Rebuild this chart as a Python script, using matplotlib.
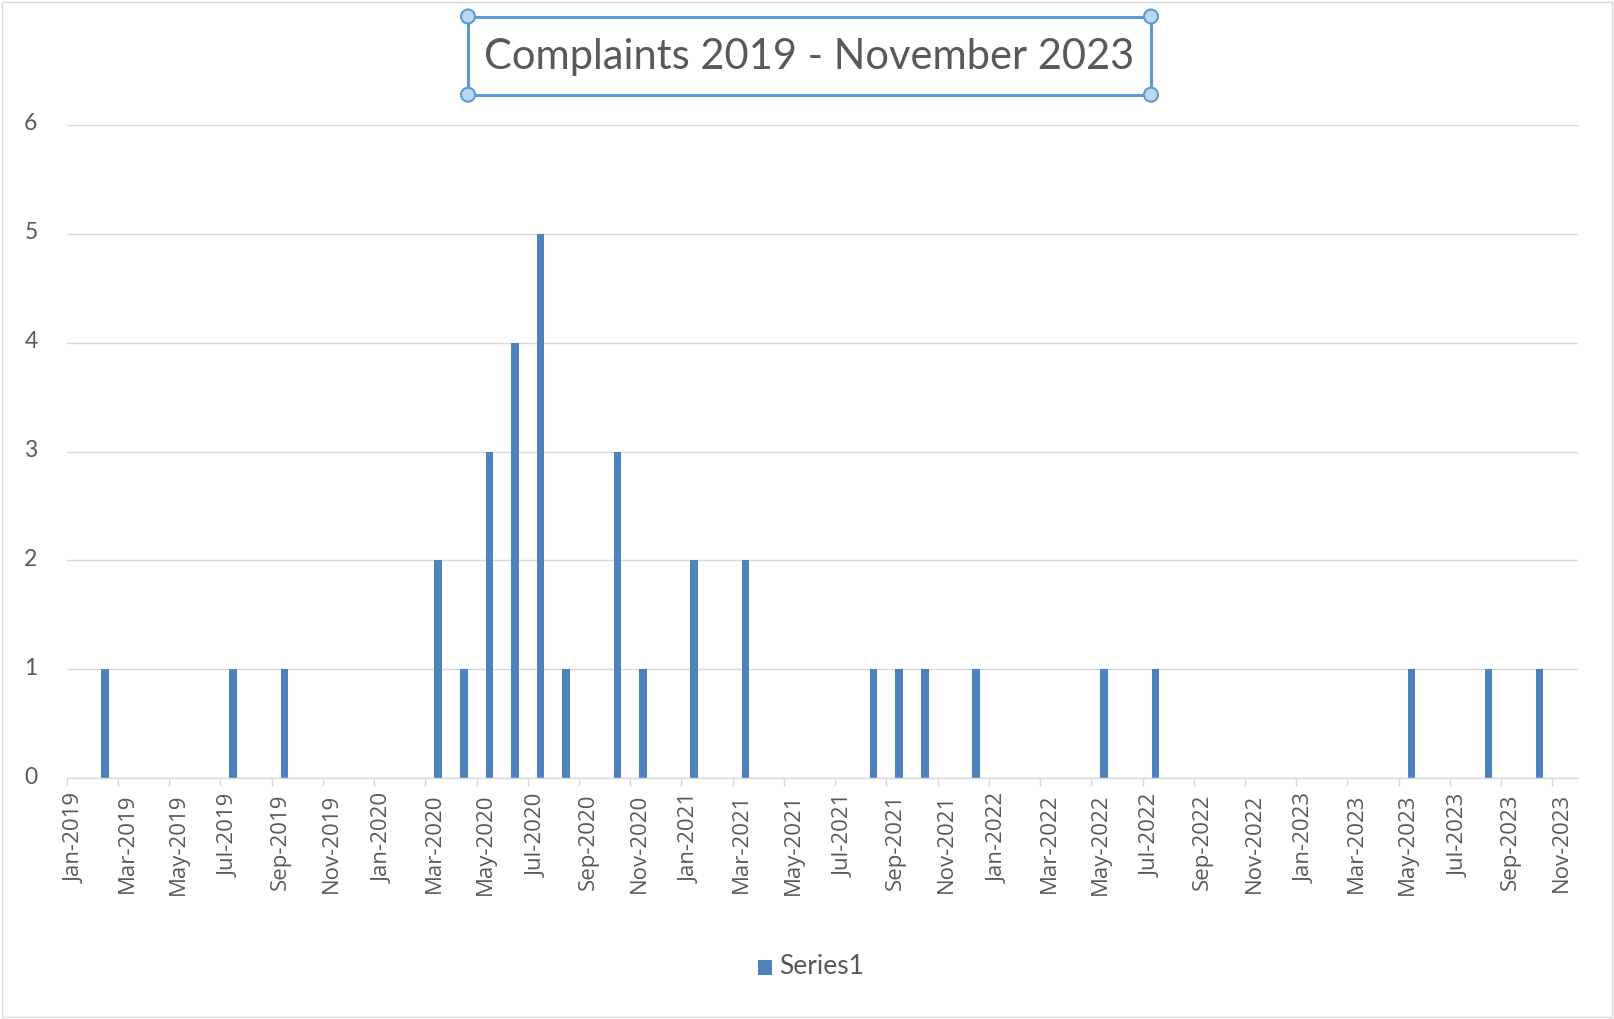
import matplotlib
matplotlib.use('Agg')
import matplotlib.pyplot as plt
import matplotlib.transforms as mtransforms
from matplotlib.patches import Rectangle, Circle
import numpy as np
import pandas as pd

# ---- data ----
months = ['2019-02', '2019-07', '2019-09', '2020-03', '2020-04', '2020-05',
          '2020-06', '2020-07', '2020-08', '2020-10', '2020-11', '2021-01',
          '2021-03', '2021-08', '2021-09', '2021-10', '2021-12', '2022-05',
          '2022-07', '2023-05', '2023-08', '2023-10']
complaints = [1, 1, 1, 2, 1, 3, 4, 5, 1, 3, 1, 2, 2, 1, 1, 1, 1, 1, 1, 1, 1, 1]
axis_start = '2019-01'
axis_end = '2023-11'
y_ticks = [0, 1, 2, 3, 4, 5, 6]
series_name = 'Series1'
title_text = 'Complaints 2019 - November 2023'

# ---- styling ----
FONT = 'Lato'
TEXT_C = '#595959'
GRID_C = '#D9D9D9'
BAR_C = '#4F81BD'

W, H, DPI = 1614, 1019, 100
fig = plt.figure(figsize=(W / DPI, H / DPI), dpi=DPI)
fig.patch.set_facecolor('white')

periods = pd.period_range(axis_start, axis_end, freq='M')
series = pd.Series(complaints, index=pd.PeriodIndex(months, freq='M'))
series = series.reindex(periods, fill_value=0)
idx = np.arange(len(periods))

left_px, right_px, top_px, bottom_px = 66.7, 1578.0, 125.0, 778.0
ax = fig.add_axes([left_px / W, 1 - bottom_px / H,
                   (right_px - left_px) / W, (bottom_px - top_px) / H])

ax.bar(idx + 0.5, series.values, width=0.3, color=BAR_C, zorder=3)

ax.set_xlim(0, len(periods))
ax.set_ylim(y_ticks[0], y_ticks[-1])
ax.set_yticks(y_ticks)
ax.set_yticklabels([str(v) for v in y_ticks], fontsize=16.5, color=TEXT_C,
                   family=FONT)
ax.yaxis.grid(True, color=GRID_C, linewidth=1.0, zorder=0)
ax.tick_params(axis='y', length=0, pad=21)
yoff = mtransforms.ScaledTranslation(0, 3 / DPI, fig.dpi_scale_trans)
for lab in ax.get_yticklabels():
    lab.set_transform(lab.get_transform() + yoff)

tick_pos = idx[::2]
ax.set_xticks(tick_pos)
ax.set_xticklabels([periods[i].strftime('%b-%Y') for i in tick_pos],
                   rotation=90, fontsize=16, color=TEXT_C, family='Open Sans',
                   va='top', ha='center')
ax.tick_params(axis='x', length=6, width=1.0, color=GRID_C, direction='out',
               pad=5)
offset = mtransforms.ScaledTranslation(9 / DPI, 0, fig.dpi_scale_trans)
for lab in ax.get_xticklabels():
    lab.set_transform(lab.get_transform() + offset)

for sp in ['top', 'right', 'left']:
    ax.spines[sp].set_visible(False)
ax.spines['bottom'].set_color(GRID_C)
ax.spines['bottom'].set_linewidth(1.0)
ax.spines['bottom'].set_zorder(4)

# chart border
fig.patches.append(Rectangle((2 / W, 2 / H), (W - 4) / W, (H - 4) / H,
                             transform=fig.transFigure, fill=False,
                             edgecolor=GRID_C, linewidth=1.0))

# title with selection box
x0, x1, y0, y1 = 468, 1151, 16.5, 94.7
fig.patches.append(Rectangle((x0 / W, 1 - y1 / H), (x1 - x0) / W, (y1 - y0) / H,
                             transform=fig.transFigure, fill=False,
                             edgecolor='#5B9BD5', linewidth=2.2, zorder=5))
for cx, cy in [(x0, y0), (x1, y0), (x0, y1), (x1, y1)]:
    fig.patches.append(Circle((cx, H - cy), 7, transform=None,
                              facecolor='#BDD7EE', edgecolor='#5B9BD5',
                              linewidth=1.5, zorder=6))
fig.text((x0 + x1) / 2 / W, 1 - 57 / H, title_text, ha='center', va='center',
         fontsize=30, color=TEXT_C, family=FONT)

# legend
fig.patches.append(Rectangle((758 / W, 1 - 975 / H), 14 / W, 15 / H,
                             transform=fig.transFigure, facecolor=BAR_C,
                             edgecolor='none'))
fig.text(779 / W, 1 - 966 / H, series_name, ha='left', va='center',
         fontsize=19, color=TEXT_C, family=FONT)

fig.savefig('out.png', dpi=DPI)
